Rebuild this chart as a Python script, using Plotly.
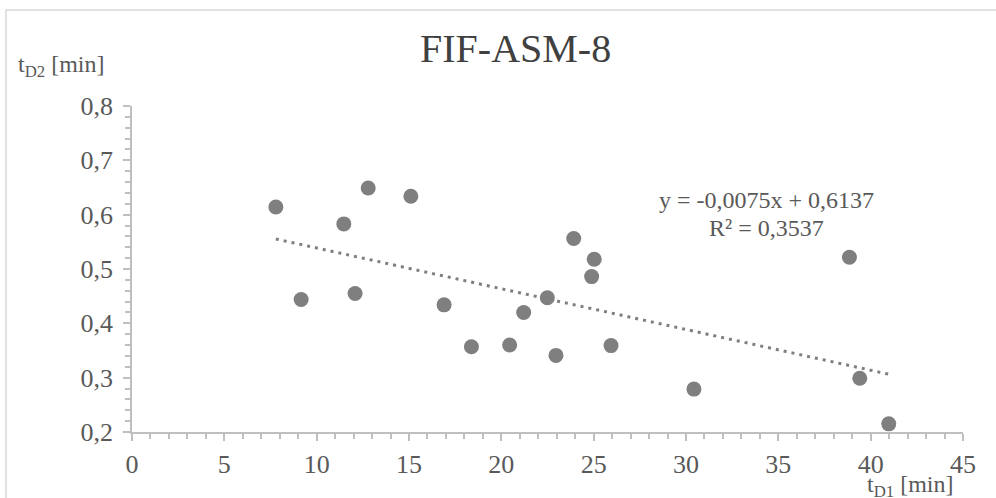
import plotly.graph_objects as go

# Measured drainage times for FIF-ASM-8
t_d1 = [7.79, 9.16, 11.47, 12.08, 12.79, 15.10, 16.90, 18.38, 20.45, 21.21,
        22.49, 22.96, 23.92, 24.89, 25.03, 25.94, 30.43, 38.85, 39.41, 40.98]
t_d2 = [0.614, 0.444, 0.583, 0.455, 0.649, 0.634, 0.434, 0.357, 0.360, 0.420,
        0.447, 0.341, 0.556, 0.486, 0.518, 0.359, 0.279, 0.5215, 0.299, 0.215]

# Linear trend coefficients
slope = -0.0075
intercept = 0.6137
r_squared = 0.3537

x_ticks = [0, 5, 10, 15, 20, 25, 30, 35, 40, 45]
y_ticks = [0.2, 0.3, 0.4, 0.5, 0.6, 0.7, 0.8]

trend_x = [min(t_d1), max(t_d1)]
trend_y = [slope * x + intercept for x in trend_x]

W, H = 996, 498
ML, MR, MT, MB = 132, 33, 106, 66
PW, PH = W - ML - MR, H - MT - MB


def px(x):
    return (x - ML) / PW


def py(y):
    return (H - MB - y) / PH


FONT = "Liberation Serif"
GRID = "#bfbfbf"
TXT = "#595959"
MARK = "#7f7f7f"

fig = go.Figure()
fig.add_trace(go.Scatter(
    x=trend_x, y=trend_y, mode="lines",
    line=dict(color=MARK, width=3, dash="3px,5px"),
    hoverinfo="skip", showlegend=False,
))
fig.add_trace(go.Scatter(
    x=t_d1, y=t_d2, mode="markers",
    marker=dict(color=MARK, size=15, line=dict(width=0)),
    showlegend=False,
))

axis_common = dict(
    showgrid=False, zeroline=False, showline=True, linecolor=GRID, linewidth=1.5,
    ticks="outside", ticklen=7, tickwidth=1.5, tickcolor=GRID,
    tickfont=dict(family=FONT, size=26, color=TXT),
)

fig.update_xaxes(range=[0, 45], tickvals=x_ticks, ticklabelstandoff=1,
                 minor=dict(dtick=1, ticks="outside", ticklen=5, tickcolor=GRID, tickwidth=1.5),
                 **axis_common)
fig.update_yaxes(range=[0.2, 0.8], tickvals=y_ticks, tickformat=".1f", ticklabelstandoff=5,
                 minor=dict(dtick=0.02, ticks="outside", ticklen=5, tickcolor=GRID, tickwidth=1.5),
                 **axis_common)

eq_line = f"y = {slope:.4f}x + {intercept:.4f}".replace(".", ",")
r2_line = f"R² = {r_squared:.4f}".replace(".", ",")


def label(text, x, y, size, color=TXT, xanchor="center"):
    return dict(text=text, x=px(x), y=py(y), xref="paper", yref="paper",
                xanchor=xanchor, yanchor="middle", showarrow=False,
                font=dict(family=FONT, size=size, color=color))


annotations = [
    label("FIF-ASM-8", 515, 49, 40, color="#404040"),
    label("t<sub>D2</sub> [min]", 16, 66, 24, xanchor="left"),
    label("t<sub>D1</sub> [min]", 956, 486, 24, xanchor="right"),
    label(eq_line, 766, 200, 24),
    label(r2_line, 766, 228, 24),
]

fig.update_layout(
    width=W, height=H,
    margin=dict(l=ML, r=MR, t=MT, b=MB),
    paper_bgcolor="white", plot_bgcolor="white",
    separators=", ",
    showlegend=False,
    annotations=annotations,
    shapes=[dict(type="rect", xref="paper", yref="paper",
                 x0=px(6), y0=py(520), x1=px(1010), y1=py(10),
                 line=dict(color="#d9d9d9", width=1.5), layer="below")],
)

fig.write_html("out.html")
